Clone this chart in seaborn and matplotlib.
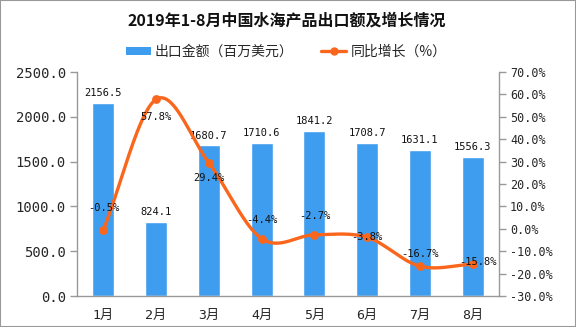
import numpy as np
import pandas as pd
import matplotlib
matplotlib.use("Agg")
import matplotlib.pyplot as plt
import seaborn as sns
from matplotlib.patches import Patch, Rectangle
from matplotlib.lines import Line2D

# ---- data ----
months = ["1月", "2月", "3月", "4月", "5月", "6月", "7月", "8月"]
export_value = [2156.5, 824.1, 1680.7, 1710.6, 1841.2, 1708.7, 1631.1, 1556.3]
yoy_growth = [-0.5, 57.8, 29.4, -4.4, -2.7, -3.8, -16.7, -15.8]
title = "2019年1-8月中国水海产品出口额及增长情况"
bar_name = "出口金额（百万美元）"
line_name = "同比增长（%）"

# ---- style ----
BAR_C = "#3F9DF0"
LINE_C = "#FA661C"
GREY = "#999999"
CJK = "Noto Sans CJK SC"
MONO = "DejaVu Sans Mono"
# label offsets (pixels) for growth labels
pct_off = [(0, 22), (0, -18), (0, -15), (0, 19), (0, 19), (0, 0), (0, 12), (5, 2)]

sns.set_theme(style="white")
plt.rcParams["font.family"] = [CJK, "DejaVu Sans"]

fig = plt.figure(figsize=(5.76, 3.27), dpi=100)
ax = fig.add_axes([77 / 576, 1 - 296 / 327, (499 - 77) / 576, (296 - 72) / 327])

df = pd.DataFrame({"month": months, "value": export_value, "growth": yoy_growth})
sns.barplot(data=df, x="month", y="value", color=BAR_C, saturation=1, width=0.42, ax=ax)
ax.set_xlim(-0.5, len(months) - 0.5)
ax.set_ylim(0, 2500)
ax.set_yticks(np.arange(0, 2501, 500))
ax.set_yticklabels([f"{v:.1f}" for v in np.arange(0, 2501, 500)], family=MONO, fontsize=10)
ax.set_xticks(range(len(months)))
ax.set_xticklabels(months, family=[MONO, CJK], fontsize=9.5)
ax.set_xticks(np.arange(-0.5, len(months), 1), minor=True)
ax.tick_params(axis="x", which="major", length=0, pad=9)
ax.tick_params(axis="x", which="minor", length=5, color=GREY, width=1)
ax.tick_params(axis="y", length=5, color=GREY, width=1, left=True, pad=3)
ax.set_xlabel("")
ax.set_ylabel("")
for s in ["top", "right"]:
    ax.spines[s].set_visible(False)
for s in ["left", "bottom"]:
    ax.spines[s].set_color(GREY)
    ax.spines[s].set_linewidth(1)

for c in ax.containers:
    ax.bar_label(c, labels=[f"{v:.1f}" for v in export_value], padding=3.5,
                 family=MONO, fontsize=7.5, color="#111111")

# ---- right axis line ----
ax2 = ax.twinx()
ax2.set_ylim(-30, 70)
yt = np.arange(-30, 71, 10)
ax2.set_yticks(yt)
ax2.set_yticklabels([f"{v:.1f}%" for v in yt], family=MONO, fontsize=8.5)
ax2.tick_params(axis="y", length=5, color=GREY, width=1, right=True, pad=3)
for s in ["top", "left", "bottom"]:
    ax2.spines[s].set_visible(False)
ax2.spines["right"].set_color(GREY)
ax2.spines["right"].set_linewidth(1)
ax2.grid(False)
ax.grid(False)

# smooth curve (cubic Hermite / Catmull-Rom through the data points)
xs = np.arange(len(yoy_growth), dtype=float)
ys = np.array(yoy_growth, dtype=float)
m = np.zeros_like(ys)
m[1:-1] = (ys[2:] - ys[:-2]) / 2
m[0] = ys[1] - ys[0]
m[-1] = ys[-1] - ys[-2]
sx, sy = [], []
for i in range(len(ys) - 1):
    t = np.linspace(0, 1, 40)
    h00 = 2 * t**3 - 3 * t**2 + 1
    h10 = t**3 - 2 * t**2 + t
    h01 = -2 * t**3 + 3 * t**2
    h11 = t**3 - t**2
    sx.extend(xs[i] + t)
    sy.extend(h00 * ys[i] + h10 * m[i] + h01 * ys[i + 1] + h11 * m[i + 1])
smooth = pd.DataFrame({"x": sx, "y": sy})
sns.lineplot(data=smooth, x="x", y="y", color=LINE_C, lw=2.4, ax=ax2, sort=False, estimator=None)
sns.scatterplot(x=xs, y=ys, color=LINE_C, s=40, edgecolor=LINE_C, linewidth=0, ax=ax2, zorder=5)
ax2.set_xlabel("")
ax2.set_ylabel("")
ax2.set_xlim(-0.5, len(months) - 0.5)

for i, v in enumerate(yoy_growth):
    ax2.annotate(f"{v:.1f}%", (xs[i], v), xytext=pct_off[i], textcoords="offset pixels",
                 ha="center", va="center", family=MONO, fontsize=7.5, color="#111111", zorder=6)

# ---- title & legend ----
fig.text(287 / 576, 1 - 21 / 327, title, ha="center", va="center", fontsize=11.5,
         fontweight="bold", family=[CJK, "DejaVu Sans"], color="#111111")
handles = [Patch(facecolor=BAR_C, edgecolor="none"),
           Line2D([0], [0], color=LINE_C, lw=2.4, marker="o", markersize=5)]
fig.legend(handles, [bar_name, line_name], loc="center", bbox_to_anchor=(286 / 576, 1 - 52 / 327),
           ncol=2, frameon=False, handlelength=1.8, handleheight=0.55,
           handletextpad=0.3, columnspacing=2.0, prop={"family": CJK, "size": 10})

fig.add_artist(Rectangle((0, 0), 1, 1, transform=fig.transFigure, fill=False,
                         edgecolor=GREY, lw=1.5))

fig.savefig("out.png", dpi=100)
